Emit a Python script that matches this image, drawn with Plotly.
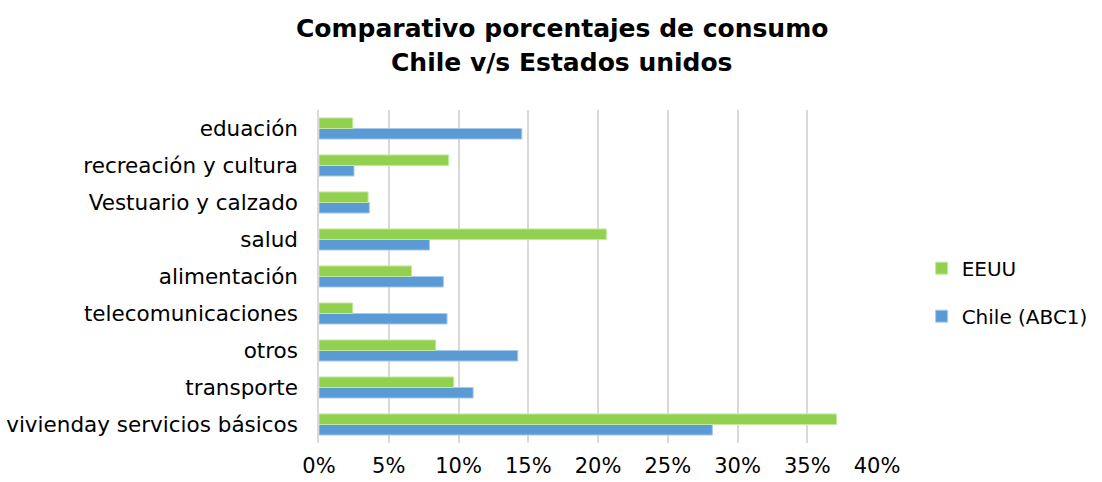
import plotly.graph_objects as go

# Categories, bottom to top as drawn
categorias = [
    "vivienday servicios básicos",
    "transporte",
    "otros",
    "telecomunicaciones",
    "alimentación",
    "salud",
    "Vestuario y calzado",
    "recreación y cultura",
    "eduación",
]

# Percent shares (as fractions)
chile_abc1 = [0.282, 0.1105, 0.1425, 0.0918, 0.0892, 0.0792, 0.0361, 0.0251, 0.1454]
eeuu = [0.371, 0.0966, 0.0837, 0.0242, 0.0663, 0.206, 0.0352, 0.093, 0.0242]

x_ticks = [0, 0.05, 0.10, 0.15, 0.20, 0.25, 0.30, 0.35, 0.40]
x_tick_labels = ["0%", "5%", "10%", "15%", "20%", "25%", "30%", "35%", "40%"]

title_lines = ["Comparativo porcentajes de consumo", "Chile v/s Estados unidos"]

font_family = "DejaVu Sans, Arial, sans-serif"

fig = go.Figure()

# Chile first so it sits below EEUU in each group
fig.add_trace(go.Bar(
    name="Chile (ABC1)",
    legendgroup="chile",
    legendrank=2,
    y=categorias,
    x=chile_abc1,
    orientation="h",
    marker_color="#5B9BD5",
    marker_line=dict(color="#A9CBEB", width=1),
))
fig.add_trace(go.Bar(
    name="EEUU",
    legendgroup="eeuu",
    legendrank=1,
    y=categorias,
    x=eeuu,
    orientation="h",
    marker_color="#92D050",
    marker_line=dict(color="#C5E8A0", width=1),
))

fig.update_layout(
    width=1102,
    height=482,
    barmode="group",
    bargap=0.43,
    bargroupgap=0,
    plot_bgcolor="white",
    paper_bgcolor="white",
    margin=dict(l=319, r=225, t=110, b=39, autoexpand=False),
    font=dict(family=font_family, color="black"),
    legend=dict(
        x=1.08,
        y=0.453,
        xanchor="left",
        yanchor="middle",
        traceorder="grouped",
        font=dict(size=20, family=font_family),
        itemwidth=30,
        tracegroupgap=19,
    ),
    showlegend=True,
)

# Two-line bold title placed as annotations
for i, line in enumerate(title_lines):
    fig.add_annotation(
        text="<b>" + line + "</b>",
        xref="paper", yref="paper",
        x=0.4355, y=1.246 - i * 0.102,
        xanchor="center", yanchor="middle",
        showarrow=False,
        font=dict(size=25, family=font_family, color="black"),
    )

fig.update_xaxes(
    range=[0, 0.40],
    tickvals=x_ticks,
    ticktext=x_tick_labels,
    showgrid=True,
    gridcolor="#D9D9D9",
    gridwidth=1.5,
    zeroline=False,
    showline=False,
    tickfont=dict(size=21),
    ticklabelstandoff=8,
    automargin=False,
)

fig.update_yaxes(
    categoryorder="array",
    categoryarray=categorias,
    showline=True,
    linecolor="#D9D9D9",
    linewidth=1.5,
    showgrid=False,
    tickfont=dict(size=21.5),
    ticklabelstandoff=15,
    automargin=False,
)

# remove the default page margin so the figure sits at the window's corner
fig.write_html(
    "out.html",
    config={"displayModeBar": False},
    post_script="document.body.style.margin='0';",
)
